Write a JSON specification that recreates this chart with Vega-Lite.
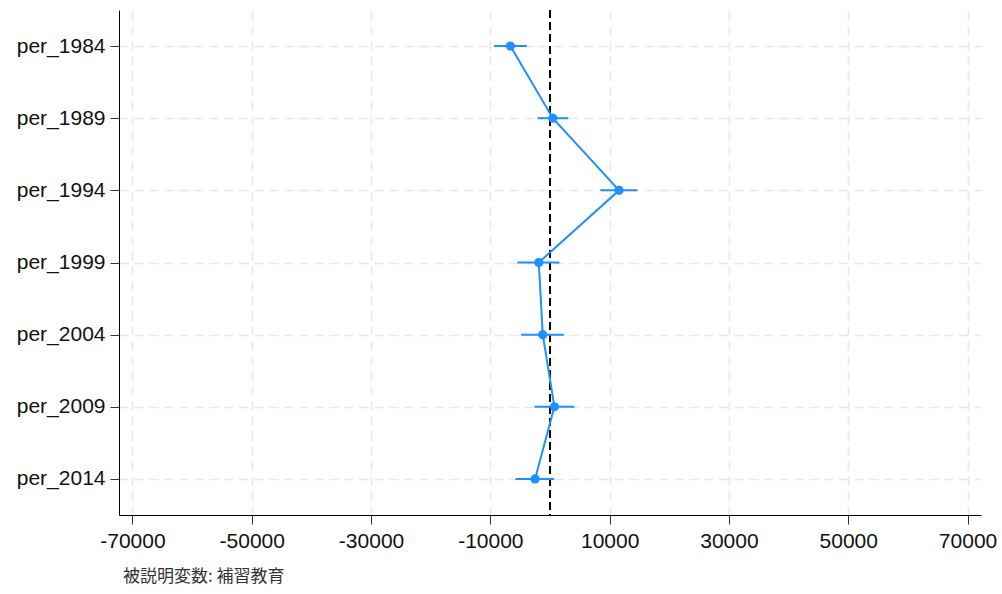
{
  "$schema": "https://vega.github.io/schema/vega-lite/v6.json",
  "width": 862,
  "height": 505,
  "autosize": {"type": "none"},
  "padding": {"left": 119, "top": 10, "right": 21, "bottom": 79},
  "background": "white",
  "title": {
    "text": "被説明変数: 補習教育",
    "orient": "bottom",
    "anchor": "start",
    "frame": "group",
    "dx": 4,
    "offset": 18,
    "font": "Noto Sans CJK JP",
    "fontSize": 17,
    "fontWeight": "normal",
    "color": "#333333"
  },
  "config": {
    "view": {"stroke": null},
    "axis": {
      "labelFont": "Liberation Sans",
      "labelFontSize": 21,
      "labelColor": "#111111",
      "domainColor": "#000000",
      "domainWidth": 1,
      "tickColor": "#333333",
      "tickSize": 9,
      "tickWidth": 1,
      "grid": true,
      "gridColor": "#e8e8e8",
      "gridDash": [9, 6],
      "gridWidth": 1.6,
      "title": null
    }
  },
  "data": {
    "values": [
      {"term": "per_1984", "est": -6640, "lo": -9370, "hi": -3890},
      {"term": "per_1989", "est": 470, "lo": -2110, "hi": 3085},
      {"term": "per_1994", "est": 11580, "lo": 8450, "hi": 14650},
      {"term": "per_1999", "est": -1880, "lo": -5460, "hi": 1580},
      {"term": "per_2004", "est": -1210, "lo": -4850, "hi": 2310},
      {"term": "per_2009", "est": 740, "lo": -2610, "hi": 4090},
      {"term": "per_2014", "est": -2500, "lo": -5800, "hi": 690}
    ]
  },
  "encoding": {
    "y": {
      "field": "term",
      "type": "nominal",
      "scale": {"type": "point", "padding": 0.5},
      "axis": {"labelPadding": 5}
    }
  },
  "layer": [
    {
      "mark": {"type": "rule", "color": "#000000", "strokeWidth": 2, "strokeDash": [8, 4]},
      "encoding": {
        "x": {"datum": 0, "type": "quantitative"},
        "y": null
      }
    },
    {
      "mark": {"type": "rule", "color": "#1e90ff", "strokeWidth": 2},
      "encoding": {
        "x": {
          "field": "lo",
          "type": "quantitative",
          "scale": {"domain": [-72250, 72250], "nice": false, "zero": false},
          "axis": {
            "values": [-70000, -50000, -30000, -10000, 10000, 30000, 50000, 70000],
            "labelExpr": "'' + datum.value",
            "labelPadding": 6
          }
        },
        "x2": {"field": "hi"}
      }
    },
    {
      "mark": {"type": "line", "color": "#1e90ff", "strokeWidth": 2},
      "encoding": {
        "x": {"field": "est", "type": "quantitative"},
        "order": {"field": "term"}
      }
    },
    {
      "mark": {"type": "point", "filled": true, "color": "#1e90ff", "opacity": 1, "size": 85},
      "encoding": {
        "x": {"field": "est", "type": "quantitative"}
      }
    }
  ]
}
